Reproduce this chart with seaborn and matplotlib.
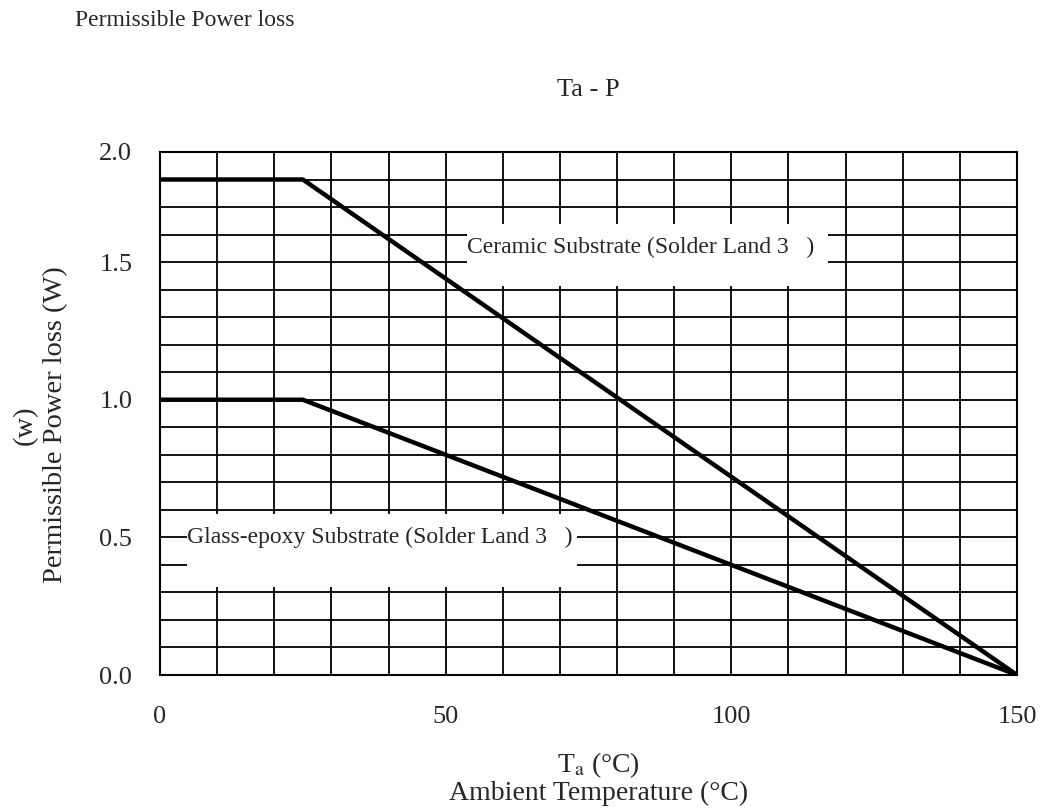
"""plot.py - Ta-P derating curve (permissible power loss vs ambient temperature)"""

import numpy as np
import pandas as pd
import matplotlib
matplotlib.use('Agg')
import matplotlib.pyplot as plt
from matplotlib.patches import Rectangle
import seaborn as sns

# data
temp_c = [0, 25, 150]
ceramic_w = [1.8, 1.8, 0.0]
glass_w = [1.0, 1.0, 0.0]

y_tick_pos = [0.0, 0.5, 1.0, 1.5, 1.9]
y_tick_labels = ['0.0', '0.5', '1.0', '1.5', '2.0']
x_ticks = [0, 50, 100, 150]

sns.set_style('white')
plt.rcParams['font.family'] = ['Liberation Serif', 'DejaVu Serif']
plt.rcParams['mathtext.fontset'] = 'stix'

df = pd.concat([
    pd.DataFrame({'temp': temp_c, 'power': ceramic_w, 'substrate': 'ceramic'}),
    pd.DataFrame({'temp': temp_c, 'power': glass_w, 'substrate': 'glass'}),
])

fig = plt.figure(figsize=(10.43, 8.08), dpi=100)
ax = fig.add_axes([0.1534, 0.1646, 0.8217, 0.6473])

sns.lineplot(data=df, x='temp', y='power', units='substrate', estimator=None,
             color='black', linewidth=3.2, ax=ax, zorder=4)

ax.set_xlim(0, 150)
ax.set_ylim(0, 1.9)
ax.set_xticks(x_ticks)
ax.set_xticks(np.arange(0, 151, 10), minor=True)
ax.set_yticks(y_tick_pos)
ax.set_yticklabels(y_tick_labels)
ax.set_yticks(np.arange(0, 1.91, 0.1), minor=True)
ax.grid(which='both', color='black', linewidth=1.3)
ax.set_axisbelow(True)
ax.tick_params(which='both', length=0, labelsize=19)
ax.tick_params(axis='x', pad=22)
ax.tick_params(axis='y', pad=20)
for s in ax.spines.values():
    s.set_color('black')
    s.set_linewidth(1.5)

# white boxes behind the curve labels (they blank out the grid)
ax.add_patch(Rectangle((53.7, 1.413), 63.2, 0.227, facecolor='white',
                       edgecolor='none', zorder=1.5))
ax.text(53.8, 1.553, 'Ceramic Substrate (Solder Land 3   )', fontsize=17,
        va='center', ha='left', zorder=5)
ax.add_patch(Rectangle((4.7, 0.32), 68.3, 0.265, facecolor='white',
                       edgecolor='none', zorder=1.5))
ax.text(4.75, 0.5, 'Glass-epoxy Substrate (Solder Land 3   )', fontsize=17,
        va='center', ha='left', zorder=5,
        bbox=dict(facecolor='white', edgecolor='none', pad=0.3))

ax.set_title('Ta - P', fontsize=19, pad=40)
ax.set_xlabel('T$_\\mathrm{a}$ (°C)\nAmbient Temperature (°C)', fontsize=20,
              linespacing=1.05)
ax.set_ylabel('(w)\nPermissible Power loss (W)', fontsize=20.5, linespacing=1.3)
ax.xaxis.set_label_coords(0.512, -0.143, transform=ax.transAxes)
ax.xaxis.label.set_va('top')
ax.yaxis.set_label_coords(-0.107, 0.478, transform=ax.transAxes)

fig.text(0.072, 0.975, 'Permissible Power loss', fontsize=17, va='center', ha='left')

plt.savefig('out.png', dpi=100)
plt.close()
